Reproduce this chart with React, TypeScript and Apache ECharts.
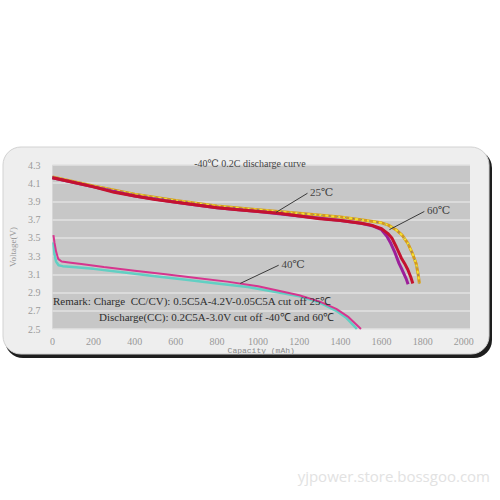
import { useEffect, useRef } from 'react';
import * as echarts from 'echarts';

// voltage axis starts at 2.5 V; series are plotted relative to it so ticks land on 2.5, 2.7 ...
const V_BASE = 2.5;

// 25℃ (red)
const cap25 = [0, 100, 200, 300, 400, 500, 600, 700, 800, 900, 1000, 1100, 1200, 1300, 1400, 1500, 1550, 1600, 1630, 1650, 1672, 1696, 1712, 1728, 1742, 1752];
const volt25 = [4.16, 4.11, 4.06, 4.0, 3.96, 3.92, 3.89, 3.86, 3.83, 3.81, 3.79, 3.77, 3.74, 3.71, 3.69, 3.66, 3.64, 3.6, 3.55, 3.5, 3.4, 3.28, 3.22, 3.15, 3.07, 3.0];

// second room-temperature cell (purple)
const capPurple = [0, 200, 400, 600, 800, 1000, 1200, 1400, 1500, 1560, 1600, 1625, 1645, 1663, 1685, 1700, 1710, 1720, 1729];
const voltPurple = [4.16, 4.06, 3.96, 3.89, 3.83, 3.79, 3.74, 3.69, 3.66, 3.63, 3.59, 3.52, 3.44, 3.35, 3.22, 3.15, 3.1, 3.05, 2.99];

// 60℃ (yellow / orange)
const cap60 = [0, 200, 400, 600, 800, 1000, 1200, 1400, 1500, 1600, 1633, 1670, 1700, 1728, 1750, 1768, 1778, 1784];
const volt60 = [4.17, 4.07, 3.98, 3.91, 3.85, 3.81, 3.77, 3.73, 3.7, 3.665, 3.64, 3.59, 3.53, 3.44, 3.33, 3.22, 3.1, 3.0];

// -40℃ (magenta)
const capCold = [5, 10, 18, 28, 45, 80, 150, 250, 400, 550, 700, 850, 1000, 1100, 1200, 1300, 1380, 1440, 1500];
const voltCold = [3.53, 3.45, 3.35, 3.27, 3.24, 3.23, 3.21, 3.18, 3.14, 3.1, 3.06, 3.02, 2.97, 2.92, 2.87, 2.8, 2.72, 2.63, 2.5];

// -40℃ (cyan)
const capCold2 = [5, 10, 18, 30, 50, 100, 200, 350, 500, 650, 800, 950, 1100, 1200, 1300, 1380, 1430, 1480];
const voltCold2 = [3.45, 3.32, 3.24, 3.2, 3.19, 3.18, 3.16, 3.12, 3.08, 3.04, 3.0, 2.96, 2.9, 2.86, 2.79, 2.7, 2.62, 2.5];

// leader lines: [from capacity, from voltage, to capacity, to voltage]
const lead25 = [1087, 3.78, 1240, 3.99];
const lead60 = [1638, 3.59, 1808, 3.79];
const leadCold = [913, 3.0, 1100, 3.2];

const SERIF = '"Liberation Serif", "DejaVu Serif", serif';

const toPoints = (xs: number[], ys: number[]) => xs.map((x, i) => [x, ys[i] - V_BASE]);

const leader = (l: number[], text: string) => ({
  silent: true,
  symbol: ['none', 'none'],
  lineStyle: { color: '#3a3a3a', width: 1, type: 'solid' },
  label: { show: true, position: 'end', formatter: text, color: '#444', fontSize: 11, fontFamily: SERIF, distance: 3 },
  data: [[{ coord: [l[0], l[1] - V_BASE] }, { coord: [l[2], l[3] - V_BASE] }]],
});

export default function App() {
  const chartRef = useRef<HTMLDivElement>(null);

  useEffect(() => {
    if (!chartRef.current) return;
    const chart = echarts.init(chartRef.current, undefined, { renderer: 'svg' });

    chart.setOption({
      animation: false,
      backgroundColor: '#ffffff',
      title: {
        text: '-40℃ 0.2C discharge curve',
        left: 'center',
        top: 153,
        textStyle: { color: '#444', fontSize: 10, fontWeight: 'normal', fontFamily: SERIF },
      },
      graphic: [
        {
          type: 'rect',
          z: -20,
          shape: { x: 5, y: 150, width: 487, height: 208, r: 18 },
          style: { fill: '#1e1e1e' },
        },
        {
          type: 'rect',
          z: -10,
          shape: { x: 3, y: 147, width: 486, height: 207, r: 18 },
          style: { fill: '#eeeeee', stroke: '#d2d2d2', lineWidth: 1 },
        },
        {
          type: 'text',
          z: 10,
          x: 53,
          y: 301,
          style: {
            text: 'Remark: Charge  CC/CV): 0.5C5A-4.2V-0.05C5A cut off 25℃',
            font: '11px "Liberation Serif"',
            fill: '#2e2e2e',
            verticalAlign: 'middle',
          },
        },
        {
          type: 'text',
          z: 10,
          x: 99,
          y: 317,
          style: {
            text: 'Discharge(CC): 0.2C5A-3.0V cut off -40℃ and 60℃',
            font: '11px "Liberation Serif"',
            fill: '#2e2e2e',
            verticalAlign: 'middle',
          },
        },
        {
          type: 'text',
          x: 490,
          y: 476,
          style: {
            text: 'yjpower.store.bossgoo.com',
            font: '15px "Open Sans"',
            fill: '#e2e2e2',
            align: 'right',
            verticalAlign: 'middle',
          },
        },
      ],
      grid: {
        left: 46,
        right: 30,
        top: 165,
        bottom: 171,
        show: true,
        backgroundColor: '#c7c7c7',
        borderWidth: 0,
      },
      xAxis: {
        type: 'value',
        min: 0,
        max: 2030,
        interval: 200,
        name: 'Capacity (mAh)',
        nameLocation: 'middle',
        nameGap: 16,
        nameTextStyle: { color: '#888', fontSize: 8, fontFamily: '"Liberation Mono", monospace' },
        axisLine: { show: false },
        axisTick: { show: false },
        splitLine: { show: false },
        axisLabel: {
          color: '#999',
          fontSize: 10,
          fontFamily: SERIF,
          margin: 7,
          showMaxLabel: false,
          formatter: (v: number) => String(v),
        },
      },
      yAxis: {
        type: 'value',
        min: 0,
        max: 1.8,
        interval: 0.2,
        name: 'Voltage(V)',
        nameLocation: 'middle',
        nameGap: 32,
        nameTextStyle: { color: '#999', fontSize: 9, fontFamily: SERIF },
        axisLine: { show: false },
        axisTick: { show: false },
        splitLine: { show: true, lineStyle: { color: '#e2e2e2', width: 1.5 } },
        axisLabel: {
          color: '#9a9a9a',
          fontSize: 10,
          fontFamily: SERIF,
          margin: 12,
          formatter: (v: number) => (v + V_BASE).toFixed(1),
        },
      },
      series: [
        {
          type: 'line',
          data: toPoints(capCold2, voltCold2),
          showSymbol: false,
          lineStyle: { color: '#62cfc3', width: 2.5 },
        },
        {
          type: 'line',
          data: toPoints(capCold, voltCold),
          showSymbol: false,
          lineStyle: { color: '#d6358e', width: 2 },
          markLine: leader(leadCold, '40℃'),
        },
        {
          type: 'line',
          data: toPoints(cap60, volt60),
          showSymbol: false,
          lineStyle: { color: '#d49a1e', width: 3 },
        },
        {
          type: 'line',
          data: toPoints(cap60, volt60),
          showSymbol: false,
          lineStyle: { color: '#f4e030', width: 2, type: [3, 3] },
          markLine: leader(lead60, '60℃'),
        },
        {
          type: 'line',
          data: toPoints(cap60, volt60),
          showSymbol: false,
          lineStyle: { color: '#5566bb', width: 1, type: [1, 7] },
        },
        {
          type: 'line',
          data: toPoints(capPurple, voltPurple),
          showSymbol: false,
          lineStyle: { color: '#9c1f9a', width: 3 },
        },
        {
          type: 'line',
          data: toPoints(cap25, volt25),
          showSymbol: false,
          lineStyle: { color: '#c4122f', width: 3 },
          markLine: leader(lead25, '25℃'),
        },
      ],
    });

    return () => {
      chart.dispose();
    };
  }, []);

  return <div ref={chartRef} style={{ position: 'absolute', left: 0, top: 0, width: 500, height: 500 }} />;
}
